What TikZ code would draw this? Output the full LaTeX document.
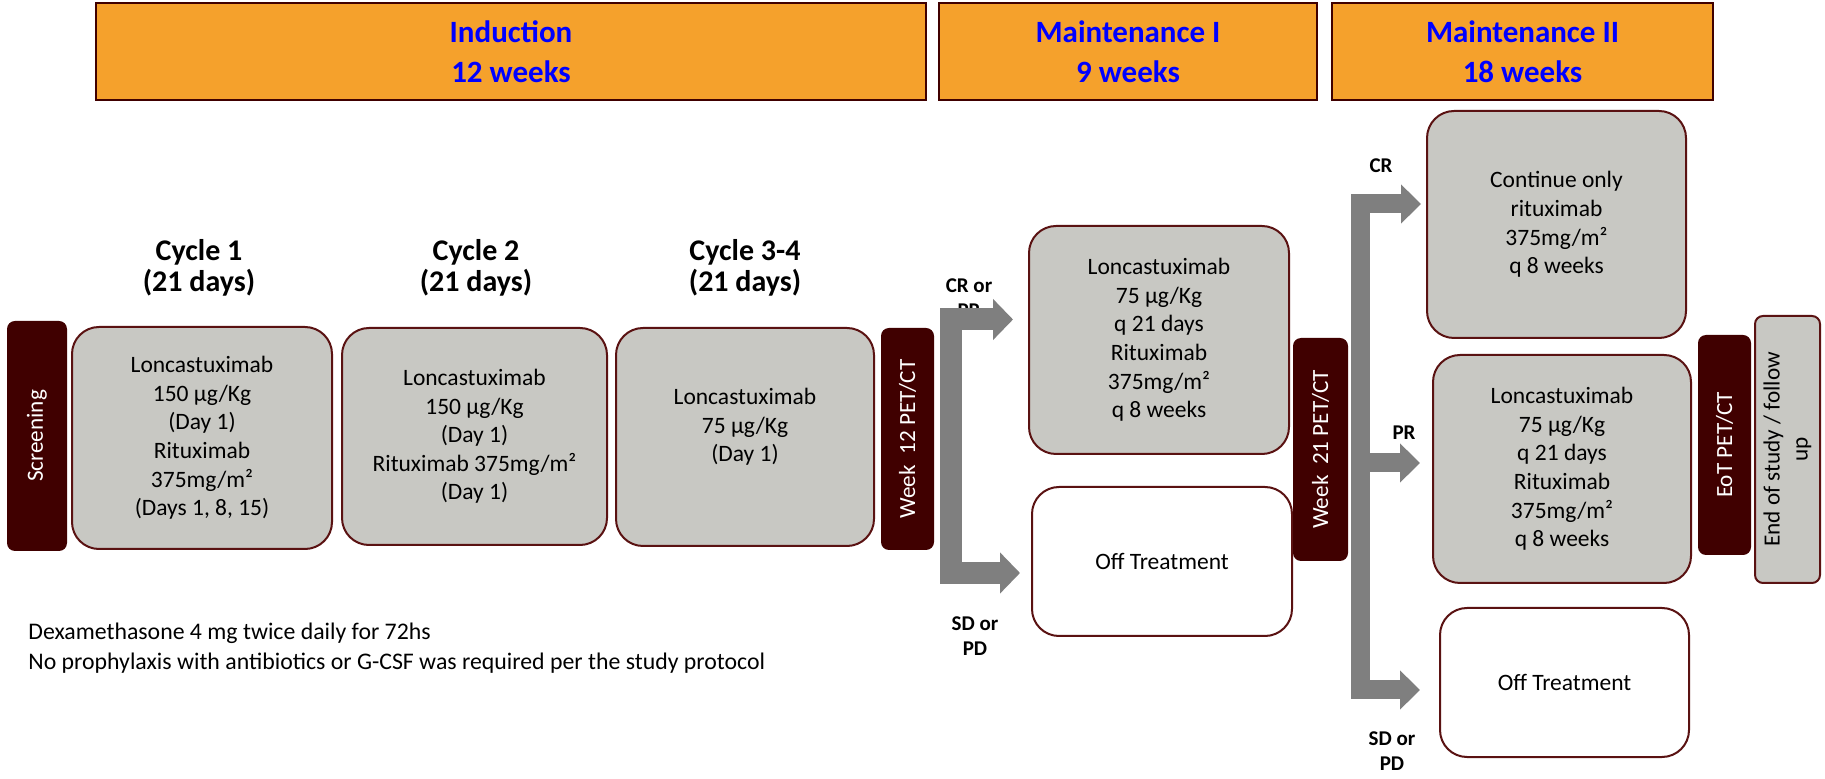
\documentclass[tikz,border=0pt]{standalone}
\usepackage{fontspec}
\setmainfont{Carlito}
\usetikzlibrary{arrows.meta}
\definecolor{hdr}{HTML}{F5A12C}
\definecolor{maroonline}{HTML}{5A1212}
\definecolor{barfill}{HTML}{400000}
\definecolor{boxg}{HTML}{C8C8C3}
\definecolor{arrgray}{HTML}{7F7F7F}
\definecolor{hblue}{HTML}{0000FF}
\newcommand\placebox[7]{%
  \pgfmathsetmacro\pbcx{(#2+#4)/2}%
  \pgfmathsetmacro\pbcy{(#3+#5)/2}%
  \pgfmathsetmacro\pbw{(#4-#2)*0.5}%
  \pgfmathsetmacro\pbh{(#5-#3)*0.5}%
  \node[#6, minimum width=\pbw pt, minimum height=\pbh pt] (#1) at (\pbcx,\pbcy) {#7};}
\newcommand\placebar[7]{%
  \pgfmathsetmacro\pbcx{(#2+#4)/2}%
  \pgfmathsetmacro\pbcy{(#3+#5)/2}%
  \pgfmathsetmacro\pbw{(#4-#2)*0.5}%
  \pgfmathsetmacro\pbh{(#5-#3)*0.5}%
  \node[#6, minimum width=\pbh pt, minimum height=\pbw pt] (#1) at (\pbcx,\pbcy) {#7};}
\begin{document}
\begin{tikzpicture}[x=0.5pt,y=-0.5pt,
  hdrbox/.style={draw=barfill, line width=1pt, fill=hdr, inner sep=0pt, align=center,
    font=\fontsize{15.5}{20}\selectfont\bfseries, text=hblue},
  gbox/.style={draw=maroonline, line width=1pt, fill=boxg, rounded corners=13.5pt, inner sep=0pt,
    align=center, font=\fontsize{11.75}{14.3}\selectfont},
  wbox/.style={gbox, fill=white},
  darkbar/.style={fill=barfill, rounded corners=4pt, inner sep=0pt, text=white, align=center,
    font=\fontsize{11.6}{14}\selectfont, rotate=90},
  endbox/.style={draw=maroonline, line width=1pt, fill=boxg, rounded corners=4pt, inner sep=0pt,
    align=center, font=\fontsize{11.6}{14}\selectfont, rotate=90},
  cyclelbl/.style={align=center, inner sep=0pt, font=\fontsize{15}{15.5}\selectfont\bfseries},
  resplbl/.style={align=center, inner sep=0pt, font=\fontsize{10.5}{12.5}\selectfont\bfseries},
  notetxt/.style={align=left, inner sep=0pt, font=\fontsize{11.9}{15}\selectfont},
  bigarrow/.style={color=arrgray, line width=11pt, line join=miter,
    {Triangle[length=10pt,width=20pt]}-{Triangle[length=10pt,width=20pt]}},
  midarrow/.style={color=arrgray, line width=9.5pt, line join=miter,
    {Triangle[length=10pt,width=19pt]}-{Triangle[length=10pt,width=19pt]}},
  singlearrow/.style={color=arrgray, line width=9.5pt, -{Triangle[length=10pt,width=19pt]}}
]
\useasboundingbox (0,0) rectangle (1825,779);

% headers
\placebox{hInd}{96}{3}{926}{100}{hdrbox}{Induction\\12 weeks}
\placebox{hMa}{939}{3}{1317}{100}{hdrbox}{Maintenance I\\9 weeks}
\placebox{hMb}{1332}{3}{1713}{100}{hdrbox}{Maintenance II\\18 weeks}

% cycle labels
\node[cyclelbl] (c1) at (199,268) {Cycle 1\\(21 days)};
\node[cyclelbl] (c2) at (476,268) {Cycle 2\\(21 days)};
\node[cyclelbl] (c3) at (745,268) {Cycle 3-4\\(21 days)};

% induction row
\placebar{scr}{7}{321}{67}{551}{darkbar}{Screening}
\placebox{b1}{72}{327}{332}{549}{gbox}{Loncastuximab\\150 µg/Kg\\(Day 1)\\Rituximab\\375mg/m²\\(Days 1, 8, 15)}
\placebox{b2}{342}{328}{607}{545}{gbox}{Loncastuximab\\150 µg/Kg\\(Day 1)\\Rituximab 375mg/m²\\(Day 1)}
\placebox{b3}{616}{328}{874}{546}{gbox, text depth=12pt}{Loncastuximab\\75 µg/Kg\\(Day 1)}
\placebar{w12}{881}{328}{934}{550}{darkbar}{Week\ \ 12 PET/CT}

% maintenance I
\placebox{m1}{1029}{226}{1289}{454}{gbox}{Loncastuximab\\75 µg/Kg\\q 21 days\\Rituximab\\375mg/m²\\q 8 weeks}
\placebox{off1}{1032}{487}{1292}{636}{wbox}{Off Treatment}
\placebar{w21}{1293}{338}{1348}{561}{darkbar}{Week\ \ 21 PET/CT}

% maintenance II
\placebox{cont}{1427}{111}{1686}{338}{gbox}{Continue only\\rituximab\\375mg/m²\\q 8 weeks}
\placebox{m2}{1433}{355}{1691}{583}{gbox}{Loncastuximab\\75 µg/Kg\\q 21 days\\Rituximab\\375mg/m²\\q 8 weeks}
\placebox{off2}{1440}{608}{1689}{757}{wbox}{Off Treatment}
\placebar{eot}{1698}{335}{1751}{555}{darkbar}{EoT PET/CT}
\placebar{eos}{1755}{316}{1820}{583}{endbox}{End of study / follow\\up}

% response labels
\node[resplbl] (lcr1) at (969,298) {CR or\\PR};
\node[resplbl] (lsd1) at (975,636) {SD or\\PD};
\node[resplbl] (lcr2) at (1381,166) {CR};
\node[resplbl] (lpr2) at (1404,433) {PR};
\node[resplbl] (lsd2) at (1392,751) {SD or\\PD};

% bracket after week 12
\coordinate (a1lo) at (1020,573);
\coordinate (a1cl) at (950.5,573);
\coordinate (a1cu) at (950.5,319.5);
\coordinate (a1hi) at (1013,319.5);
\draw[bigarrow] (a1lo) -- (a1cl) -- (a1cu) -- (a1hi);

% bracket after week 21
\coordinate (a2lo) at (1420,690);
\coordinate (a2cl) at (1360,690);
\coordinate (a2cu) at (1360,204);
\coordinate (a2hi) at (1421,204);
\coordinate (a2ms) at (1360,463);
\coordinate (a2me) at (1420,463);
\draw[midarrow] (a2lo) -- (a2cl) -- (a2cu) -- (a2hi);
\draw[singlearrow] (a2ms) -- (a2me);

% notes
\node[notetxt, anchor=west] (note) at (28,648) {Dexamethasone 4 mg twice daily for 72hs\\No prophylaxis with antibiotics or G-CSF was required per the study protocol};
\end{tikzpicture}
\end{document}
